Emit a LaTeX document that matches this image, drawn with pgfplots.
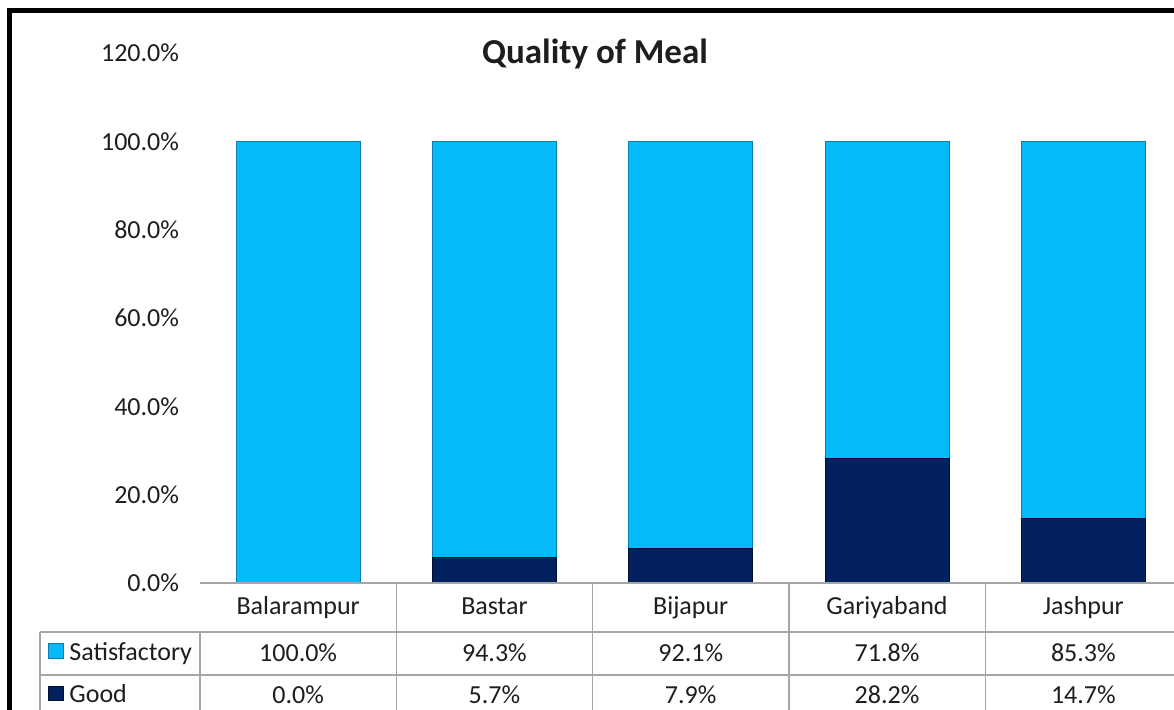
\documentclass[border=0pt]{standalone}
\usepackage{fontspec}
\setmainfont{Carlito}
\usepackage{pgfplots}
\pgfplotsset{compat=1.18}
\definecolor{cyanc}{HTML}{06B9F9}
\definecolor{cyanedge}{HTML}{0A7FAE}
\definecolor{navyc}{HTML}{03215F}
\definecolor{navyedge}{HTML}{01102F}
\definecolor{gridgray}{HTML}{A6A6A6}
\definecolor{txt}{HTML}{1E1E1E}
\newcommand{\tf}{\fontsize{13}{15}\selectfont\color{txt}}
\begin{document}
\begin{tikzpicture}
\path[use as bounding box] (0,0) rectangle (587pt,-354.5pt);
\fill[white] (0,0) rectangle (587pt,-354.5pt);
\begin{axis}[
  at={(100pt,-291.5pt)}, anchor=south west,
  scale only axis, width=490.75pt, height=265pt,
  ybar stacked, bar width=62pt,
  xmin=-0.5, xmax=4.5, ymin=0, ymax=120,
  xtick=\empty,
  ytick={0,20,40,60,80,100,120},
  yticklabels={0.0\%,20.0\%,40.0\%,60.0\%,80.0\%,100.0\%,120.0\%},
  yticklabel style={font=\tf, xshift=-7pt},
  major tick length=0pt,
  axis line style={draw=none},
  clip=false,
]
\addplot[fill=navyc, draw=navyedge, line width=0.4pt] coordinates {(0,0) (1,5.7) (2,7.9) (3,28.2) (4,14.7)};
\addplot[fill=cyanc, draw=cyanedge, line width=0.4pt] coordinates {(0,100) (1,94.3) (2,92.1) (3,71.8) (4,85.3)};
% header row
\node[anchor=base, font=\tf] at (axis cs:0,0) [yshift=-15.5pt] {Balarampur};
\node[anchor=base, font=\tf] at (axis cs:1,0) [yshift=-15.5pt] {Bastar};
\node[anchor=base, font=\tf] at (axis cs:2,0) [yshift=-15.5pt] {Bijapur};
\node[anchor=base, font=\tf] at (axis cs:3,0) [yshift=-15.5pt] {Gariyaband};
\node[anchor=base, font=\tf] at (axis cs:4,0) [yshift=-15.5pt] {Jashpur};
% satisfactory row
\node[anchor=base, font=\tf] at (axis cs:0,0) [yshift=-39pt] {100.0\%};
\node[anchor=base, font=\tf] at (axis cs:1,0) [yshift=-39pt] {94.3\%};
\node[anchor=base, font=\tf] at (axis cs:2,0) [yshift=-39pt] {92.1\%};
\node[anchor=base, font=\tf] at (axis cs:3,0) [yshift=-39pt] {71.8\%};
\node[anchor=base, font=\tf] at (axis cs:4,0) [yshift=-39pt] {85.3\%};
% good row
\node[anchor=base, font=\tf] at (axis cs:0,0) [yshift=-60pt] {0.0\%};
\node[anchor=base, font=\tf] at (axis cs:1,0) [yshift=-60pt] {5.7\%};
\node[anchor=base, font=\tf] at (axis cs:2,0) [yshift=-60pt] {7.9\%};
\node[anchor=base, font=\tf] at (axis cs:3,0) [yshift=-60pt] {28.2\%};
\node[anchor=base, font=\tf] at (axis cs:4,0) [yshift=-60pt] {14.7\%};
\end{axis}
% title
\node[anchor=base, font=\fontsize{17.5}{21}\selectfont\bfseries\color{txt}] at (297.5pt,-31.7pt) {Quality of Meal};
% table lines
\begin{scope}[draw=gridgray, line width=0.7pt]
\draw (100pt,-291.5pt) -- (590pt,-291.5pt);
\draw (20pt,-316pt) -- (590pt,-316pt);
\draw (20pt,-337.5pt) -- (590pt,-337.5pt);
\draw (20pt,-316pt) -- (20pt,-356pt);
\draw (100pt,-316pt) -- (100pt,-356pt);
\foreach \xx in {198.15,296.3,394.45,492.6} {\draw (\xx pt,-291.5pt) -- (\xx pt,-356pt);}
\end{scope}
% legend keys
\filldraw[fill=cyanc, draw=cyanedge, line width=0.4pt] (24pt,-321.5pt) rectangle (31.5pt,-329pt);
\filldraw[fill=navyc, draw=navyedge, line width=0.4pt] (24pt,-343pt) rectangle (31.5pt,-350pt);
\node[anchor=base west, font=\tf, inner sep=0pt] at (34.5pt,-330.3pt) {Satisfactory};
\node[anchor=base west, font=\tf, inner sep=0pt] at (34.5pt,-351.3pt) {Good};
% frame
\draw[black, line width=2.5pt] (4.6pt,-356pt) -- (4.6pt,-5.4pt) -- (590pt,-5.4pt);
\end{tikzpicture}
\end{document}
